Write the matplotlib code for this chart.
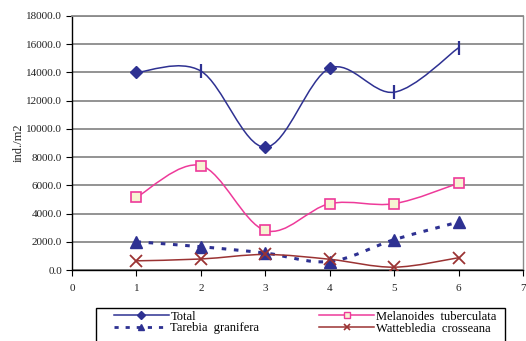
import matplotlib
matplotlib.use("Agg")
import matplotlib.pyplot as plt
from matplotlib.path import Path
from matplotlib.patches import PathPatch, Rectangle
from matplotlib.lines import Line2D
import numpy as np

plt.rcParams['font.family'] = ['Liberation Serif', 'DejaVu Serif']

x = [1, 2, 3, 4, 5, 6]
total = [14000, 14100, 8700, 14300, 12600, 15750]
melanoides = [5150, 7400, 2800, 4700, 4700, 6150]
tarebia = [2000, 1650, 1200, 600, 2150, 3400]
wattebledia = [650, 780, 1100, 760, 200, 870]

labels = ["Total", "Melanoides  tuberculata", "Tarebia  granifera", "Wattebledia  crosseana"]
xticks = [0, 1, 2, 3, 4, 5, 6, 7]
yticks = [0, 2000, 4000, 6000, 8000, 10000, 12000, 14000, 16000, 18000]

W, H = 526, 341
fig = plt.figure(figsize=(W / 100, H / 100), dpi=100)
ax = fig.add_axes([72 / W, 1 - 270 / H, (523 - 72) / W, (270 - 16) / H])


def smooth_path(xs, ys):
    pts = np.column_stack([xs, ys]).astype(float)
    n = len(pts)
    verts = [pts[0]]
    codes = [Path.MOVETO]
    for i in range(n - 1):
        p0 = pts[i - 1] if i > 0 else pts[i]
        p1 = pts[i]
        p2 = pts[i + 1]
        p3 = pts[i + 2] if i + 2 < n else pts[i + 1]
        c1 = p1 + (p2 - p0) / 6.0
        c2 = p2 - (p3 - p1) / 6.0
        verts += [c1, c2, p2]
        codes += [Path.CURVE4] * 3
    return Path(verts, codes)


c_total = '#2E3192'
c_mel = '#EE3A9A'
c_tar = '#2E3192'
c_wat = '#9B3333'
dots = (0, (1.5, 2.5))

for ys, col, ls, lw in [(total, c_total, '-', 1.1), (melanoides, c_mel, '-', 1.1),
                        (tarebia, c_tar, dots, 2.2), (wattebledia, c_wat, '-', 1.1)]:
    ax.add_patch(PathPatch(smooth_path(x, ys), facecolor='none', edgecolor=col,
                           lw=lw, linestyle=ls, zorder=3))

# Total markers (diamonds and bars as rendered)
dia_idx = [0, 2, 3]
bar_idx = [1, 4, 5]
ax.plot([x[i] for i in dia_idx], [total[i] for i in dia_idx], 'D', color=c_total, ms=6, zorder=4)
ax.plot([x[i] for i in bar_idx], [total[i] for i in bar_idx], '|', color=c_total, ms=10, mew=1.6, zorder=4)
ax.plot(x, melanoides, 's', mfc='#F7F3D3', mec=c_mel, ms=7, mew=1.2, zorder=4)
ax.plot(x, tarebia, '^', color=c_tar, ms=8, zorder=4)
ax.plot(x, wattebledia, 'x', color=c_wat, ms=8, mew=1.3, zorder=4)

ax.set_xlim(0, 7)
ax.set_ylim(0, 18000)
ax.set_xticks(xticks)
ax.set_xticklabels([str(t) for t in xticks])
ax.set_yticks(yticks)
ax.set_yticklabels([f"{t:.1f}" for t in yticks])
ax.yaxis.grid(True, color='#8a8a8a', lw=1.3)
ax.set_axisbelow(True)
ax.tick_params(axis='both', labelsize=8, color='black', length=4, width=0.8, direction='out', pad=3,
               labelcolor='#222222')
ax.tick_params(axis='x', pad=6)
for s in ['left', 'bottom']:
    ax.spines[s].set_color('black')
    ax.spines[s].set_linewidth(1.0)
ax.spines['top'].set_color('#8a8a8a')
ax.spines['top'].set_linewidth(1.3)
ax.spines['right'].set_color('#8a8a8a')
ax.spines['right'].set_linewidth(1.0)
ax.set_ylabel("ind./m2", fontsize=9, color='#222222', labelpad=1)

# legend frame (extends past the bottom edge, as in the reference)
fig.add_artist(Rectangle((96 / W, 1 - 348 / H), (505 - 96) / W, (348 - 308) / H,
                         transform=fig.transFigure, facecolor='white', edgecolor='black',
                         lw=1.0, zorder=5))

handles = [
    Line2D([], [], color=c_total, lw=1.1, marker='D', ms=4),
    Line2D([], [], color=c_tar, lw=2, linestyle=dots, marker='^', ms=5),
    Line2D([], [], color=c_mel, lw=1.1, marker='s', ms=4, mfc='#F7F3D3', mec=c_mel),
    Line2D([], [], color=c_wat, lw=1.1, marker='x', ms=5, mew=1.2),
]
leg_labels = [labels[0], labels[2], labels[1], labels[3]]
leg = fig.legend(handles, leg_labels, ncol=2, loc='upper left',
                 bbox_to_anchor=(111 / W, 1 - 308 / H),
                 fontsize=9, frameon=False, handlelength=4.4, handletextpad=0.15,
                 borderpad=0.2, labelspacing=0.0, columnspacing=4.8, borderaxespad=0)
leg.set_zorder(6)

fig.savefig("out.png", dpi=100)
